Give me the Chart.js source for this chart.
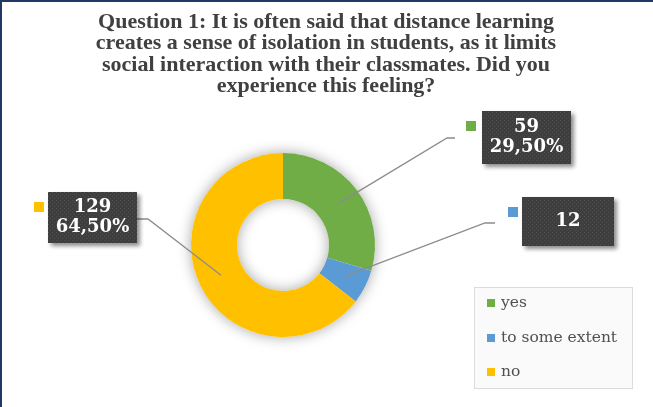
<!DOCTYPE html>
<html>
<head>
<meta charset="utf-8">
<script src="https://cdn.jsdelivr.net/npm/chart.js@4.4.1/dist/chart.umd.min.js"></script>
<style>
  body { margin: 0; background: #fff; }
  #wrap { width: 653px; height: 407px; }
</style>
</head>
<body>
<div id="wrap"><canvas id="donut-Chart" width="653" height="407"></canvas></div>
<script>
// -------------------- DATA --------------------

const titleLines = [
  "Question 1: It is often said that distance learning",
  "creates a sense of isolation in students, as it limits",
  "social interaction with their classmates. Did you",
  "experience this feeling?",
];
const answers = ["yes", "to some extent", "no"];
const counts = [59, 12, 129];
const showPercent = [true, false, true]; // small slice only shows its count
const colors = ["#70AD47", "#5B9BD5", "#FFC000"];

// -------------------- LAYOUT --------------------

// callout boxes + leader line points, one per slice
const callouts = [
  { left: 482, top: 111, w: 89, h: 53, line: [[447, 138], [455, 138]] },
  { left: 522, top: 197, w: 92, h: 49, line: [[485, 223], [495, 223]] },
  { left: 48, top: 192, w: 89, h: 51, line: [[148, 219], [137, 219]] },
];
const squareX = [466, 508, 34];

const legendBox = { left: 474, top: 287, w: 158, h: 101 };
const legendRows = [303, 338, 372];

const total = counts.reduce((a, b) => a + b, 0);

// dotted dark fill used by the callout boxes
function makePattern(ctx) {
  const c = document.createElement("canvas");
  c.width = 4;
  c.height = 4;
  const p = c.getContext("2d");
  p.fillStyle = "#3e3e3e";
  p.fillRect(0, 0, 4, 4);
  p.fillStyle = "#4e4e4e";
  p.fillRect(0, 0, 1, 1);
  p.fillRect(2, 2, 1, 1);
  return ctx.createPattern(c, "repeat");
}

// soft shadow under the ring
const ringShadow = {
  id: "ringShadow",
  beforeDatasetsDraw(chart) {
    const arc = chart.getDatasetMeta(0).data[0];
    if (!arc) return;
    const { x, y, outerRadius, innerRadius } = arc.getProps(["x", "y", "outerRadius", "innerRadius"], true);
    const ctx = chart.ctx;
    ctx.save();
    ctx.shadowColor = "rgba(0,0,0,0.35)";
    ctx.shadowBlur = 14;
    ctx.fillStyle = "#ffffff";
    ctx.beginPath();
    ctx.arc(x, y, outerRadius, 0, Math.PI * 2);
    ctx.arc(x, y, innerRadius, 0, Math.PI * 2, true);
    ctx.fill();
    ctx.restore();
  },
};

// title, callouts, legend and frame
const extras = {
  id: "extras",
  afterDraw(chart) {
    const ctx = chart.ctx;
    ctx.save();

    // title
    ctx.fillStyle = "#404040";
    ctx.font = "bold 22px 'Liberation Serif', serif";
    ctx.textAlign = "center";
    ctx.textBaseline = "middle";
    titleLines.forEach((t, i) => ctx.fillText(t, 326, 22 + i * 21.5));

    // leader lines + callouts
    const meta = chart.getDatasetMeta(0);
    const pattern = makePattern(ctx);
    meta.data.forEach((arc, i) => {
      const c = callouts[i];
      const start = arc.tooltipPosition();
      ctx.strokeStyle = "#8c8c8c";
      ctx.lineWidth = 1.3;
      ctx.beginPath();
      ctx.moveTo(start.x, start.y);
      c.line.forEach(([lx, ly]) => ctx.lineTo(lx, ly));
      ctx.stroke();

      ctx.save();
      ctx.shadowColor = "rgba(0,0,0,0.45)";
      ctx.shadowBlur = 4;
      ctx.shadowOffsetX = 3;
      ctx.shadowOffsetY = 3;
      ctx.fillStyle = pattern;
      ctx.fillRect(c.left, c.top, c.w, c.h);
      ctx.restore();

      ctx.fillStyle = colors[i];
      ctx.fillRect(squareX[i], c.top + 10, 10, 10);

      const pct = ((counts[i] / total) * 100).toFixed(2).replace(".", ",") + "%";
      const lines = showPercent[i] ? [String(counts[i]), pct] : [String(counts[i])];
      ctx.fillStyle = "#ffffff";
      ctx.font = "bold 18px 'DejaVu Serif', serif";
      const cx = c.left + c.w / 2;
      const cy = c.top + c.h / 2;
      lines.forEach((t, j) => ctx.fillText(t, cx, cy + (j - (lines.length - 1) / 2) * 20));
    });

    // legend
    const lb = legendBox;
    ctx.fillStyle = "#fafafa";
    ctx.fillRect(lb.left, lb.top, lb.w, lb.h);
    ctx.strokeStyle = "#dcdcdc";
    ctx.lineWidth = 1;
    ctx.strokeRect(lb.left + 0.5, lb.top + 0.5, lb.w, lb.h);
    ctx.textAlign = "left";
    ctx.font = "15.5px 'DejaVu Serif', serif";
    answers.forEach((a, i) => {
      ctx.fillStyle = colors[i];
      ctx.fillRect(487, legendRows[i] - 4, 8, 8);
      ctx.fillStyle = "#505050";
      ctx.fillText(a, 501, legendRows[i]);
    });

    // frame edges
    ctx.fillStyle = "#1F3864";
    ctx.fillRect(0, 0, chart.width, 2);
    ctx.fillRect(0, 0, 2, chart.height);
    ctx.restore();
  },
};

// -------------------- CHART --------------------

const ctx = document.getElementById("donut-Chart");
new Chart(ctx, {
  type: "doughnut",
  data: {
    labels: answers,
    datasets: [
      {
        data: counts,
        backgroundColor: colors,
        borderWidth: 0,
      },
    ],
  },
  options: {
    responsive: false,
    animation: false,
    cutout: "50%",
    layout: { padding: { left: 191, right: 278, top: 153, bottom: 70 } },
    plugins: {
      legend: { display: false },
      title: { display: false },
      tooltip: { enabled: false },
    },
  },
  plugins: [ringShadow, extras],
});
</script>
</body>
</html>
